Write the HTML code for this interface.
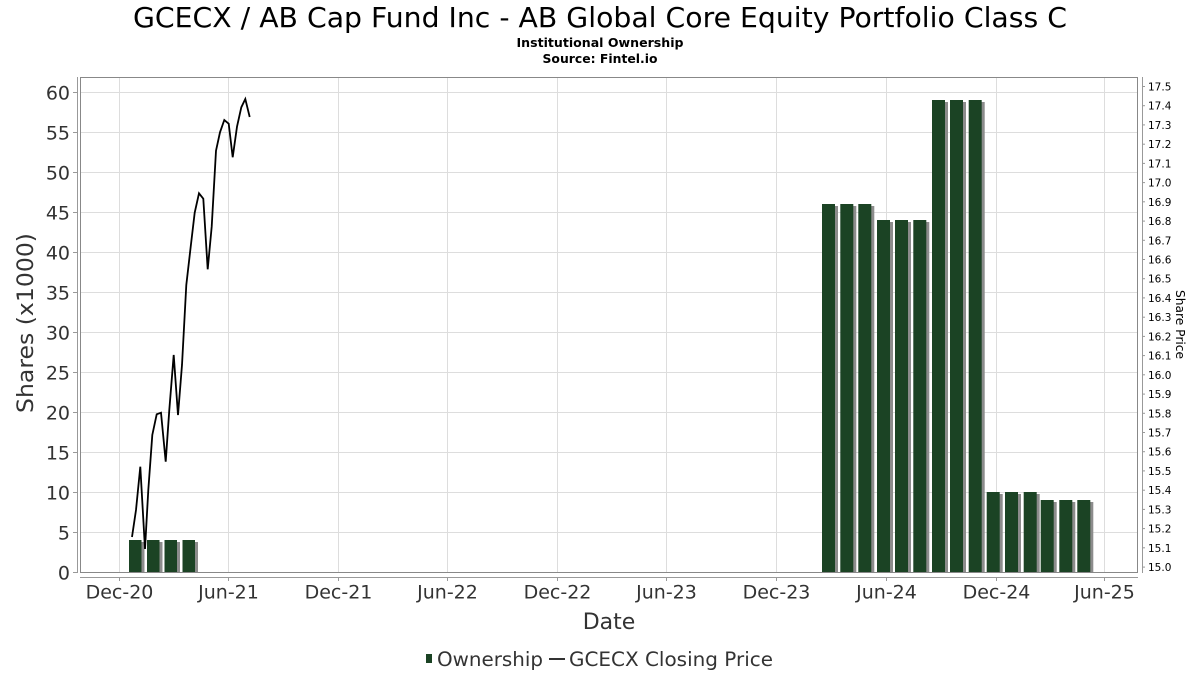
<!DOCTYPE html>
<html>
<head>
<meta charset="utf-8">
<style>
  html,body{margin:0;padding:0;background:#fff;}
  svg{display:block;}
  text{font-family:"DejaVu Sans","Liberation Sans",sans-serif;}
</style>
</head>
<body>
<svg width="1200" height="675" viewBox="0 0 1200 675" xmlns="http://www.w3.org/2000/svg">
  <rect x="0" y="0" width="1200" height="675" fill="#fff"/>

  <!-- Titles -->
  <text x="600" y="27" font-size="28" text-anchor="middle" fill="#000" textLength="934" lengthAdjust="spacingAndGlyphs">GCECX / AB Cap Fund Inc - AB Global Core Equity Portfolio Class C</text>
  <text x="600" y="47" font-size="12" font-weight="bold" text-anchor="middle" fill="#000" textLength="167" lengthAdjust="spacingAndGlyphs">Institutional Ownership</text>
  <text x="600" y="63" font-size="12" font-weight="bold" text-anchor="middle" fill="#000" textLength="115" lengthAdjust="spacingAndGlyphs">Source: Fintel.io</text>

  <!-- Horizontal gridlines -->
  <g stroke="#dddddd" stroke-width="1">
    <line x1="80" y1="92.5" x2="1138" y2="92.5"/>
    <line x1="80" y1="132.5" x2="1138" y2="132.5"/>
    <line x1="80" y1="172.5" x2="1138" y2="172.5"/>
    <line x1="80" y1="212.5" x2="1138" y2="212.5"/>
    <line x1="80" y1="252.5" x2="1138" y2="252.5"/>
    <line x1="80" y1="292.5" x2="1138" y2="292.5"/>
    <line x1="80" y1="332.5" x2="1138" y2="332.5"/>
    <line x1="80" y1="372.5" x2="1138" y2="372.5"/>
    <line x1="80" y1="412.5" x2="1138" y2="412.5"/>
    <line x1="80" y1="452.5" x2="1138" y2="452.5"/>
    <line x1="80" y1="492.5" x2="1138" y2="492.5"/>
    <line x1="80" y1="532.5" x2="1138" y2="532.5"/>
  </g>
  <!-- Vertical gridlines -->
  <g stroke="#dddddd" stroke-width="1">
    <line x1="119.5" y1="77" x2="119.5" y2="573"/>
    <line x1="228.5" y1="77" x2="228.5" y2="573"/>
    <line x1="338.5" y1="77" x2="338.5" y2="573"/>
    <line x1="447.5" y1="77" x2="447.5" y2="573"/>
    <line x1="557.5" y1="77" x2="557.5" y2="573"/>
    <line x1="666.5" y1="77" x2="666.5" y2="573"/>
    <line x1="776.5" y1="77" x2="776.5" y2="573"/>
    <line x1="886.5" y1="77" x2="886.5" y2="573"/>
    <line x1="996.5" y1="77" x2="996.5" y2="573"/>
    <line x1="1104.5" y1="77" x2="1104.5" y2="573"/>
  </g>

  <!-- Bars: shadows -->
  <g fill="#8c8c8c">
    <rect x="132" y="542" width="12.5" height="31"/>
    <rect x="150" y="542" width="12.5" height="31"/>
    <rect x="167.5" y="542" width="12.5" height="31"/>
    <rect x="185.5" y="542" width="12.5" height="31"/>

    <rect x="825" y="206" width="13" height="367"/>
    <rect x="843.3" y="206" width="13" height="367"/>
    <rect x="861.3" y="206" width="13" height="367"/>
    <rect x="880" y="222" width="13" height="351"/>
    <rect x="898" y="222" width="13" height="351"/>
    <rect x="916.3" y="222" width="13" height="351"/>
    <rect x="935" y="102" width="13" height="471"/>
    <rect x="953" y="102" width="13" height="471"/>
    <rect x="971.7" y="102" width="13" height="471"/>
    <rect x="989.7" y="494" width="13" height="79"/>
    <rect x="1008" y="494" width="13" height="79"/>
    <rect x="1026.7" y="494" width="13" height="79"/>
    <rect x="1043.7" y="502" width="13" height="71"/>
    <rect x="1062.3" y="502" width="13" height="71"/>
    <rect x="1080.3" y="502" width="13" height="71"/>
  </g>
  <!-- Bars -->
  <g fill="#1b4324">
    <rect x="129" y="540" width="12.5" height="33"/>
    <rect x="147" y="540" width="12.5" height="33"/>
    <rect x="164.5" y="540" width="12.5" height="33"/>
    <rect x="182.5" y="540" width="12.5" height="33"/>

    <rect x="822" y="204" width="13" height="369"/>
    <rect x="840.3" y="204" width="13" height="369"/>
    <rect x="858.3" y="204" width="13" height="369"/>
    <rect x="877" y="220" width="13" height="353"/>
    <rect x="895" y="220" width="13" height="353"/>
    <rect x="913.3" y="220" width="13" height="353"/>
    <rect x="932" y="100" width="13" height="473"/>
    <rect x="950" y="100" width="13" height="473"/>
    <rect x="968.7" y="100" width="13" height="473"/>
    <rect x="986.7" y="492" width="13" height="81"/>
    <rect x="1005" y="492" width="13" height="81"/>
    <rect x="1023.7" y="492" width="13" height="81"/>
    <rect x="1040.7" y="500" width="13" height="73"/>
    <rect x="1059.3" y="500" width="13" height="73"/>
    <rect x="1077.3" y="500" width="13" height="73"/>
  </g>

  <!-- Price line -->
  <polyline fill="none" stroke="#000" stroke-width="1.8" stroke-linejoin="miter"
    points="132,537 136,510 140.3,466.7 145,549 148.3,490 152.3,435 156.7,414.3 161,412.7 165.7,461.7 169.3,410 173.7,355 178,415 182,365 186.3,285 190.7,246.7 194.7,212.7 199,193.3 203.3,198.7 207.7,269.3 211.7,226.7 216,150.7 220,132.3 224.3,120 228.7,123.7 232.7,157.3 237,126.7 241.3,107.3 245.3,99 249.7,117"/>

  <!-- Plot border -->
  <rect x="80.5" y="77.5" width="1057" height="495" fill="none" stroke="#888" stroke-width="1"/>

  <!-- Left axis -->
  <line x1="77.5" y1="77" x2="77.5" y2="573" stroke="#999" stroke-width="1"/>
  <g stroke="#999" stroke-width="1">
    <line x1="73" y1="92.5" x2="77" y2="92.5"/>
    <line x1="73" y1="132.5" x2="77" y2="132.5"/>
    <line x1="73" y1="172.5" x2="77" y2="172.5"/>
    <line x1="73" y1="212.5" x2="77" y2="212.5"/>
    <line x1="73" y1="252.5" x2="77" y2="252.5"/>
    <line x1="73" y1="292.5" x2="77" y2="292.5"/>
    <line x1="73" y1="332.5" x2="77" y2="332.5"/>
    <line x1="73" y1="372.5" x2="77" y2="372.5"/>
    <line x1="73" y1="412.5" x2="77" y2="412.5"/>
    <line x1="73" y1="452.5" x2="77" y2="452.5"/>
    <line x1="73" y1="492.5" x2="77" y2="492.5"/>
    <line x1="73" y1="532.5" x2="77" y2="532.5"/>
    <line x1="73" y1="572.5" x2="77" y2="572.5"/>
  </g>
  <g font-size="19" fill="#333" text-anchor="end">
    <text x="70" y="99.5">60</text>
    <text x="70" y="139.5">55</text>
    <text x="70" y="179.5">50</text>
    <text x="70" y="219.5">45</text>
    <text x="70" y="259.5">40</text>
    <text x="70" y="299.5">35</text>
    <text x="70" y="339.5">30</text>
    <text x="70" y="379.5">25</text>
    <text x="70" y="419.5">20</text>
    <text x="70" y="459.5">15</text>
    <text x="70" y="499.5">10</text>
    <text x="70" y="539.5">5</text>
    <text x="70" y="579.5">0</text>
  </g>
  <text transform="translate(33,323) rotate(-90)" font-size="22" fill="#333" text-anchor="middle" textLength="180" lengthAdjust="spacingAndGlyphs">Shares (x1000)</text>

  <!-- Bottom axis -->
  <line x1="80" y1="577.5" x2="1138" y2="577.5" stroke="#999" stroke-width="1"/>
  <g stroke="#999" stroke-width="1">
    <line x1="119.5" y1="577" x2="119.5" y2="581"/>
    <line x1="228.5" y1="577" x2="228.5" y2="581"/>
    <line x1="338.5" y1="577" x2="338.5" y2="581"/>
    <line x1="447.5" y1="577" x2="447.5" y2="581"/>
    <line x1="557.5" y1="577" x2="557.5" y2="581"/>
    <line x1="666.5" y1="577" x2="666.5" y2="581"/>
    <line x1="776.5" y1="577" x2="776.5" y2="581"/>
    <line x1="886.5" y1="577" x2="886.5" y2="581"/>
    <line x1="996.5" y1="577" x2="996.5" y2="581"/>
    <line x1="1104.5" y1="577" x2="1104.5" y2="581"/>
  </g>
  <g font-size="19" fill="#333" text-anchor="middle">
    <text x="119.5" y="598.5">Dec-20</text>
    <text x="228.5" y="598.5">Jun-21</text>
    <text x="338.5" y="598.5">Dec-21</text>
    <text x="447.5" y="598.5">Jun-22</text>
    <text x="557.5" y="598.5">Dec-22</text>
    <text x="666.5" y="598.5">Jun-23</text>
    <text x="776.5" y="598.5">Dec-23</text>
    <text x="886.5" y="598.5">Jun-24</text>
    <text x="996.5" y="598.5">Dec-24</text>
    <text x="1104.5" y="598.5">Jun-25</text>
  </g>
  <text x="609" y="629" font-size="22" fill="#333" text-anchor="middle">Date</text>

  <!-- Right axis -->
  <line x1="1142.5" y1="77" x2="1142.5" y2="573" stroke="#999" stroke-width="1"/>
  <g stroke="#999" stroke-width="1">
    <line x1="1142" y1="86.5" x2="1145" y2="86.5"/>
    <line x1="1142" y1="105.7" x2="1145" y2="105.7"/>
    <line x1="1142" y1="124.9" x2="1145" y2="124.9"/>
    <line x1="1142" y1="144.2" x2="1145" y2="144.2"/>
    <line x1="1142" y1="163.4" x2="1145" y2="163.4"/>
    <line x1="1142" y1="182.6" x2="1145" y2="182.6"/>
    <line x1="1142" y1="201.8" x2="1145" y2="201.8"/>
    <line x1="1142" y1="221.1" x2="1145" y2="221.1"/>
    <line x1="1142" y1="240.3" x2="1145" y2="240.3"/>
    <line x1="1142" y1="259.5" x2="1145" y2="259.5"/>
    <line x1="1142" y1="278.7" x2="1145" y2="278.7"/>
    <line x1="1142" y1="297.9" x2="1145" y2="297.9"/>
    <line x1="1142" y1="317.2" x2="1145" y2="317.2"/>
    <line x1="1142" y1="336.4" x2="1145" y2="336.4"/>
    <line x1="1142" y1="355.6" x2="1145" y2="355.6"/>
    <line x1="1142" y1="374.8" x2="1145" y2="374.8"/>
    <line x1="1142" y1="394.1" x2="1145" y2="394.1"/>
    <line x1="1142" y1="413.3" x2="1145" y2="413.3"/>
    <line x1="1142" y1="432.5" x2="1145" y2="432.5"/>
    <line x1="1142" y1="451.7" x2="1145" y2="451.7"/>
    <line x1="1142" y1="470.9" x2="1145" y2="470.9"/>
    <line x1="1142" y1="490.2" x2="1145" y2="490.2"/>
    <line x1="1142" y1="509.4" x2="1145" y2="509.4"/>
    <line x1="1142" y1="528.6" x2="1145" y2="528.6"/>
    <line x1="1142" y1="547.8" x2="1145" y2="547.8"/>
    <line x1="1142" y1="567.1" x2="1145" y2="567.1"/>
  </g>
  <g font-size="10.5" fill="#000">
    <text x="1148" y="90.5">17.5</text>
    <text x="1148" y="109.7">17.4</text>
    <text x="1148" y="128.9">17.3</text>
    <text x="1148" y="148.2">17.2</text>
    <text x="1148" y="167.4">17.1</text>
    <text x="1148" y="186.6">17.0</text>
    <text x="1148" y="205.8">16.9</text>
    <text x="1148" y="225.1">16.8</text>
    <text x="1148" y="244.3">16.7</text>
    <text x="1148" y="263.5">16.6</text>
    <text x="1148" y="282.7">16.5</text>
    <text x="1148" y="301.9">16.4</text>
    <text x="1148" y="321.2">16.3</text>
    <text x="1148" y="340.4">16.2</text>
    <text x="1148" y="359.6">16.1</text>
    <text x="1148" y="378.8">16.0</text>
    <text x="1148" y="398.1">15.9</text>
    <text x="1148" y="417.3">15.8</text>
    <text x="1148" y="436.5">15.7</text>
    <text x="1148" y="455.7">15.6</text>
    <text x="1148" y="474.9">15.5</text>
    <text x="1148" y="494.2">15.4</text>
    <text x="1148" y="513.4">15.3</text>
    <text x="1148" y="532.6">15.2</text>
    <text x="1148" y="551.8">15.1</text>
    <text x="1148" y="571.1">15.0</text>
  </g>
  <text transform="translate(1176,324.5) rotate(90)" font-size="12" fill="#000" text-anchor="middle" textLength="69" lengthAdjust="spacingAndGlyphs">Share Price</text>

  <!-- Legend -->
  <rect x="426" y="654" width="6" height="9" fill="#1b4324"/>
  <text x="437" y="666" font-size="19.5" fill="#333" textLength="106" lengthAdjust="spacingAndGlyphs">Ownership</text>
  <line x1="549" y1="659" x2="565" y2="659" stroke="#333" stroke-width="2"/>
  <text x="569" y="666" font-size="19.5" fill="#333" textLength="204" lengthAdjust="spacingAndGlyphs">GCECX Closing Price</text>
</svg>
</body>
</html>
